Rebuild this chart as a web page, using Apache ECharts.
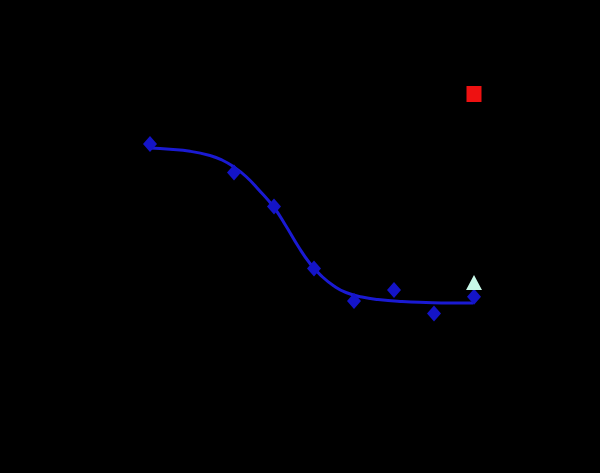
<!DOCTYPE html>
<html>
<head>
<meta charset="utf-8">
<script src="https://cdn.jsdelivr.net/npm/echarts@6/dist/echarts.min.js"></script>
<style>
html,body{margin:0;padding:0;background:#000;}
#chart{width:600px;height:473px;}
</style>
</head>
<body>
<div id="chart"></div>
<script>
// log concentration (M) of each dose
var doseLog = [-11.1, -9, -8, -7, -6, -5, -4, -3];
// response (%) measured at each dose
var doseResp = [102.4, 91.0, 77.4, 52.6, 39.6, 44.0, 34.6, 41.3];
// fitted curve
var fitX = [-11.1, -10.6, -10.1, -9.6, -9.3, -9.0, -8.7, -8.4, -8.0, -7.7, -7.4, -7.1, -6.8, -6.5, -6.2, -5.8, -5.4, -4.8, -4.2, -3.6, -3.02];
var fitY = [100.8, 100.3, 99.5, 97.8, 96.0, 93.2, 89.4, 84.4, 77.0, 69.6, 61.6, 54.6, 49.4, 45.6, 43.0, 41.2, 40.2, 39.4, 39.0, 38.8, 38.8];
// controls
var controlX = [-3];
var controlHigh = [122.4];
var controlLow = [47.0];

var chart = echarts.init(document.getElementById('chart'));
function pairs(xs, ys){ return xs.map(function(x,i){ return [x, ys[i]]; }); }
chart.setOption({
  backgroundColor: '#000000',
  animation: false,
  grid: {left: 74, right: 46, top: 50, bottom: 73},
  xAxis: {
    type: 'value', min: -13, max: -1, interval: 1,
    axisLine: {lineStyle: {color: '#000'}},
    axisTick: {lineStyle: {color: '#000'}},
    axisLabel: {color: '#000'},
    splitLine: {show: false}
  },
  yAxis: {
    type: 'value', min: 0, max: 140, interval: 20,
    axisLine: {show: true, lineStyle: {color: '#000'}},
    axisTick: {show: true, lineStyle: {color: '#000'}},
    axisLabel: {color: '#000'},
    splitLine: {show: false}
  },
  series: [
    {
      type: 'line', data: pairs(fitX, fitY), smooth: 0.5, showSymbol: false,
      lineStyle: {color: '#1a1ad2', width: 3}, z: 2
    },
    {
      type: 'scatter', data: pairs(doseLog, doseResp), symbol: 'diamond', symbolSize: [14, 16],
      itemStyle: {color: '#1414c8', opacity: 1}, z: 3
    },
    {
      type: 'scatter', data: pairs(controlX, controlHigh), symbol: 'rect', symbolSize: [15, 16],
      itemStyle: {color: '#ee1111', opacity: 1}, z: 4
    },
    {
      type: 'scatter', data: pairs(controlX, controlLow), symbol: 'triangle', symbolSize: [16, 15],
      itemStyle: {color: '#c8f8e8', opacity: 1}, z: 4
    }
  ]
});
</script>
</body>
</html>
